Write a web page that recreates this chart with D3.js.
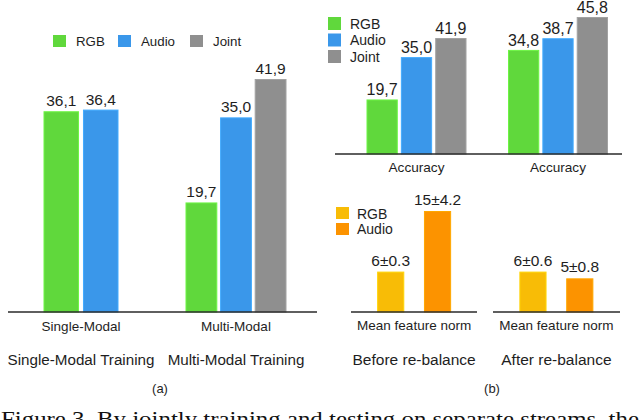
<!DOCTYPE html>
<html><head><meta charset="utf-8">
<script src="https://cdn.jsdelivr.net/npm/d3@7"></script>
<style>
html,body{margin:0;padding:0;background:#fff;}
svg{display:block;font-family:"Liberation Sans",Arial,Helvetica,sans-serif;}
</style></head>
<body>
<svg id="chart" width="640" height="420"></svg>
<script>
// ---------- data ----------
const seriesA = ["RGB", "Audio", "Joint"];
const groupsA = ["Single-Modal", "Multi-Modal"];
const valuesASingle = [36.1, 36.4];          // RGB, Audio
const valuesAMulti = [19.7, 35.0, 41.9];     // RGB, Audio, Joint
const labelsASingle = ["36,1", "36,4"];
const labelsAMulti = ["19,7", "35,0", "41,9"];
const captionsA = ["Single-Modal Training", "Multi-Modal Training"];

const seriesB1 = ["RGB", "Audio", "Joint"];
const groupsB1 = ["Accuracy", "Accuracy "];
const valuesB1Before = [19.7, 35.0, 41.9];
const valuesB1After = [34.8, 38.7, 45.8];
const labelsB1Before = ["19,7", "35,0", "41,9"];
const labelsB1After = ["34,8", "38,7", "45,8"];

const seriesB2 = ["RGB", "Audio"];
const valuesB2Before = [6, 15];
const valuesB2After = [6, 5];
const labelsB2Before = ["6±0.3", "15±4.2"];
const labelsB2After = ["6±0.6", "5±0.8"];
const groupB2 = "Mean feature norm";
const captionsB = ["Before re-balance", "After re-balance"];

const figCaption = "Figure 3. By jointly training and testing on separate streams, the";

// ---------- style ----------
const colA = d3.scaleOrdinal().domain(seriesA).range(["#60d83c", "#3a97ea", "#8f8f8f"]);
const colB2 = d3.scaleOrdinal().domain(seriesB2).range(["#f8bc06", "#fc9300"]);
const ink = "#1e1e1e";

const svg = d3.select("#chart");

function drawBars(g, cats, vals, labels, x, y, color, gap, fs) {
  cats.forEach((c, i) => {
    const col = color(c);
    g.append("rect")
      .attr("x", x(c) + 0.5).attr("y", y(vals[i]) + 0.5)
      .attr("width", x.bandwidth() - 1).attr("height", y(0) - y(vals[i]) - 0.5)
      .attr("fill", col)
      .attr("stroke", d3.color(col).brighter(0.35)).attr("stroke-width", 1);
    g.append("text")
      .attr("x", x(c) + x.bandwidth() / 2).attr("y", y(vals[i]) - gap)
      .attr("text-anchor", "middle").attr("font-size", fs).attr("fill", ink)
      .text(labels[i]);
  });
}

function baseline(x1, x2, yv) {
  svg.append("line").attr("x1", x1).attr("x2", x2).attr("y1", yv).attr("y2", yv)
    .attr("stroke", "#2a2a2a").attr("stroke-width", 1.4);
}

function catAxis(scale, yPos, fs) {
  const ax = svg.append("g").attr("transform", `translate(0,${yPos})`)
    .call(d3.axisBottom(scale).tickSize(0).tickPadding(0));
  ax.select(".domain").remove();
  ax.selectAll("text").attr("font-size", fs).attr("fill", ink)
    .attr("font-family", "Liberation Sans, Arial, sans-serif").attr("dy", 0);
  return ax;
}

// ---------- panel (a) ----------
const yA = d3.scaleLinear().domain([0, 41.9]).range([312, 79]);
const xA = d3.scaleBand().domain(groupsA).range([3.5, 313.5]);
const gA = svg.append("g");
{
  const c0 = xA(groupsA[0]) + xA.bandwidth() / 2;
  const inner0 = d3.scaleBand().domain(seriesA.slice(0, 2)).range([c0 - 37.5, c0 + 37.5]).paddingInner(0.1);
  drawBars(gA, seriesA.slice(0, 2), valuesASingle, labelsASingle, inner0, yA, colA, 5, 15.5);
  const c1 = xA(groupsA[1]) + xA.bandwidth() / 2;
  const inner1 = d3.scaleBand().domain(seriesA).range([c1 - 50.5, c1 + 50.5]).paddingInner(0.08);
  drawBars(gA, seriesA, valuesAMulti, labelsAMulti, inner1, yA, colA, 5, 15.5);
}
baseline(8, 317, yA(0));
catAxis(xA, 331, 13.5);
const capA = d3.scaleBand().domain(captionsA).range([3.5, 313.5]);
catAxis(capA, 365, 15.2);
svg.append("text").attr("x", 160).attr("y", 393).attr("text-anchor", "middle")
  .attr("font-size", 13).attr("fill", ink).text("(a)");

// legend (a)
const legAx = [53, 118, 190];
seriesA.forEach((s, i) => {
  svg.append("rect").attr("x", legAx[i]).attr("y", 35).attr("width", 13).attr("height", 12).attr("fill", colA(s));
  svg.append("text").attr("x", legAx[i] + 23).attr("y", 46).attr("font-size", 13.3).attr("fill", ink).text(s);
});

// ---------- panel (b) top ----------
const xB1 = d3.scaleBand().domain(groupsB1).range([345.75, 628.75]);
const yB1L = d3.scaleLinear().domain([0, 41.9]).range([154, 38]);
const yB1R = d3.scaleLinear().domain([0, 45.8]).range([154, 17]);
const gB1 = svg.append("g");
[[valuesB1Before, labelsB1Before, yB1L], [valuesB1After, labelsB1After, yB1R]].forEach(([v, l, ys], gi) => {
  const c = xB1(groupsB1[gi]) + xB1.bandwidth() / 2;
  const inner = d3.scaleBand().domain(seriesB1).range([c - 50, c + 50]).paddingInner(0.09);
  drawBars(gB1, seriesB1, v, l, inner, ys, colA, 4, 16);
});
baseline(335, 622, 154);
catAxis(xB1, 172, 13.6);
seriesB1.forEach((s, i) => {
  svg.append("rect").attr("x", 328).attr("y", 17 + i * 16.5).attr("width", 13).attr("height", 13).attr("fill", colA(s));
  svg.append("text").attr("x", 350).attr("y", 28.5 + i * 16.5).attr("font-size", 14).attr("fill", ink).text(s);
});

// ---------- panel (b) bottom ----------
const yB2 = d3.scaleLinear().domain([0, 15]).range([312, 211]);
const xB2 = d3.scaleBand().domain(captionsB).range([343, 627.5]);
const gB2 = svg.append("g");
[[valuesB2Before, labelsB2Before], [valuesB2After, labelsB2After]].forEach(([v, l], gi) => {
  const c = xB2(captionsB[gi]) + xB2.bandwidth() / 2;
  const inner = d3.scaleBand().domain(seriesB2).range([c - 37, c + 37]).paddingInner(0.42);
  drawBars(gB2, seriesB2, v, l, inner, yB2, colB2, 6, 15.5);
  svg.append("text").attr("x", c).attr("y", 330).attr("text-anchor", "middle")
    .attr("font-size", 13.5).attr("fill", ink).text(groupB2);
});
baseline(351, 477, yB2(0));
baseline(493, 620, yB2(0));
catAxis(xB2, 365, 15.5);
svg.append("text").attr("x", 492).attr("y", 393).attr("text-anchor", "middle")
  .attr("font-size", 13).attr("fill", ink).text("(b)");
seriesB2.forEach((s, i) => {
  svg.append("rect").attr("x", 336).attr("y", 207 + i * 16).attr("width", 13).attr("height", 12).attr("fill", colB2(s));
  svg.append("text").attr("x", 357).attr("y", 218.5 + i * 15).attr("font-size", 14).attr("fill", ink).text(s);
});

// ---------- figure caption ----------
svg.append("text").attr("x", 1).attr("y", 426)
  .attr("font-family", "Liberation Serif, Times New Roman, serif")
  .attr("font-size", 21).attr("fill", "#111")
  .attr("textLength", 638).attr("lengthAdjust", "spacingAndGlyphs")
  .text(figCaption);
</script>
</body></html>
